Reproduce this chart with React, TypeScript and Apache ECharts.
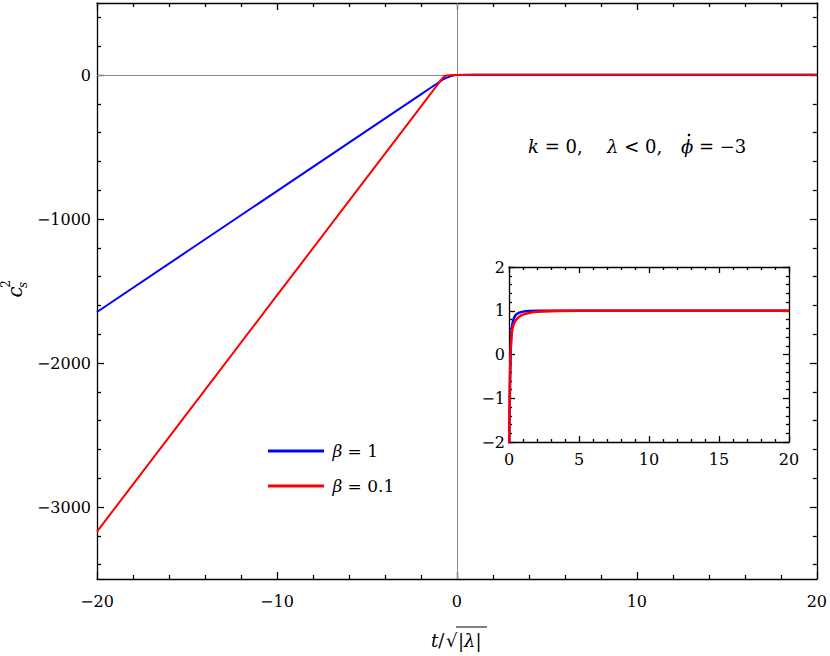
import React, { useEffect, useRef } from 'react';
import * as echarts from 'echarts';

// ---- data ----
const mainT = [-20, -15, -10, -5, -2, -1.5, -1, -0.8, -0.7, -0.6, -0.4, -0.2, 0, 0.5, 1, 2, 5, 10, 20];
const mainBlue = [-1646, -1226, -806, -386, -134, -92, -51, -32, -26, -20, -11, -4, 0, 0.9, 1, 1, 1, 1, 1];
const mainRed = [-3171, -2351, -1531, -711, -219, -137, -55, -22, -9, -4, -1.5, -0.5, 0, 0.8, 0.95, 1, 1, 1, 1];

const insetT = [0, 0.05, 0.1, 0.15, 0.2, 0.3, 0.4, 0.5, 0.7, 1, 1.5, 2, 3, 5, 10, 20];
const insetBlue = [-2.3, -1.2, -0.2, 0.35, 0.6, 0.78, 0.86, 0.91, 0.95, 0.98, 0.995, 1, 1, 1, 1, 1];
const insetRed = [-2.3, -1.0, -0.05, 0.3, 0.5, 0.66, 0.74, 0.79, 0.86, 0.91, 0.955, 0.975, 0.99, 0.998, 1, 1];

const seriesNames = ['β = 1', 'β = 0.1'];
const seriesColors = ['#0000ff', '#ff0000'];

const mainYMajor = [-3000, -2000, -1000, 0];
const mainYMinor = [-3400, -3200, -2800, -2600, -2400, -2200, -1800, -1600, -1400, -1200, -800, -600, -400, -200, 200, 400];

const FONT = 'DejaVu Serif';

const fmt = (v: number) => String(v).replace('-', '\u2212');

export default function App() {
  const ref = useRef<HTMLDivElement>(null);
  useEffect(() => {
    const chart = echarts.init(ref.current!, null, { renderer: 'svg' });
    const lineStyle = { color: '#000', width: 1.3 };
    const axisLine = { show: true, onZero: false, lineStyle };
    const label = (margin: number) => ({ color: '#000', fontSize: 16, fontFamily: FONT, margin, formatter: fmt });
    const noSplit = { splitLine: { show: false }, minorSplitLine: { show: false } };

    const xAxes = [
      { type: 'value', gridIndex: 0, min: -20, max: 20, interval: 10, position: 'bottom', axisLine,
        axisTick: { inside: true, length: 7, lineStyle }, minorTick: { show: true, splitNumber: 5, length: 4, lineStyle },
        axisLabel: label(14), ...noSplit },
      { type: 'value', gridIndex: 0, min: -20, max: 20, interval: 10, position: 'top', axisLine,
        axisTick: { inside: true, length: 7, lineStyle }, minorTick: { show: true, splitNumber: 5, length: 4, lineStyle },
        axisLabel: { show: false }, ...noSplit },
      { type: 'value', gridIndex: 1, min: 0, max: 20, interval: 5, position: 'bottom', axisLine,
        axisTick: { inside: true, length: 6, lineStyle }, minorTick: { show: true, splitNumber: 5, length: 3, lineStyle },
        axisLabel: label(9), ...noSplit },
      { type: 'value', gridIndex: 1, min: 0, max: 20, interval: 5, position: 'top', axisLine,
        axisTick: { inside: true, length: 6, lineStyle }, minorTick: { show: true, splitNumber: 5, length: 3, lineStyle },
        axisLabel: { show: false }, ...noSplit },
    ];
    const yAxes = [
      { type: 'value', gridIndex: 0, min: -3500, max: 500, position: 'left', axisLine,
        axisTick: { inside: true, length: 7, lineStyle, customValues: mainYMajor },
        axisLabel: { ...label(6), customValues: mainYMajor }, ...noSplit },
      { type: 'value', gridIndex: 0, min: -3500, max: 500, position: 'left', axisLine: { show: false, onZero: false },
        axisTick: { inside: true, length: 4, lineStyle, customValues: mainYMinor },
        axisLabel: { show: false }, ...noSplit },
      { type: 'value', gridIndex: 0, min: -3500, max: 500, position: 'right', axisLine,
        axisTick: { inside: true, length: 7, lineStyle, customValues: mainYMajor },
        axisLabel: { show: false }, ...noSplit },
      { type: 'value', gridIndex: 0, min: -3500, max: 500, position: 'right', axisLine: { show: false, onZero: false },
        axisTick: { inside: true, length: 4, lineStyle, customValues: mainYMinor },
        axisLabel: { show: false }, ...noSplit },
      { type: 'value', gridIndex: 1, min: -2, max: 2, interval: 1, position: 'left', axisLine,
        axisTick: { inside: true, length: 6, lineStyle }, minorTick: { show: true, splitNumber: 5, length: 3, lineStyle },
        axisLabel: label(4), ...noSplit },
      { type: 'value', gridIndex: 1, min: -2, max: 2, interval: 1, position: 'right', axisLine,
        axisTick: { inside: true, length: 6, lineStyle }, minorTick: { show: true, splitNumber: 5, length: 3, lineStyle },
        axisLabel: { show: false }, ...noSplit },
    ];

    const mainData = [mainBlue, mainRed];
    const insetData = [insetBlue, insetRed];
    const series: any[] = [];
    seriesNames.forEach((name, i) => {
      series.push({
        name, type: 'line', xAxisIndex: 0, yAxisIndex: 0, showSymbol: false, symbol: 'none', z: 3 + i,
        lineStyle: { color: seriesColors[i], width: 2 }, itemStyle: { color: seriesColors[i] },
        data: mainT.map((t, k) => [t, mainData[i][k]]),
        markLine: i === 0 ? {
          silent: true, symbol: 'none', z: 1, label: { show: false },
          lineStyle: { color: '#888', width: 1, type: 'solid' },
          data: [{ xAxis: 0 }, { yAxis: 0 }],
        } : undefined,
      });
    });
    seriesNames.forEach((name, i) => {
      series.push({
        name: name + ' (inset)', type: 'line', xAxisIndex: 2, yAxisIndex: 4, showSymbol: false, symbol: 'none', z: 3 + i,
        smooth: 0.3, lineStyle: { color: seriesColors[i], width: 2.5 },
        data: insetT.map((t, k) => [t, insetData[i][k]]),
      });
    });

    const txt = (x: number, y: number, text: string, size = 18) => ({
      type: 'text', x, y,
      style: {
        text, fontSize: size, fontFamily: FONT, fill: '#000', verticalAlign: 'middle',
        rich: { i: { fontStyle: 'italic', fontSize: size, fontFamily: FONT } },
      },
    });

    const option: any = {
      animation: false,
      backgroundColor: '#fff',
      textStyle: { fontFamily: FONT },
      grid: [
        { left: 97, top: 3, width: 722, height: 576, show: false },
        { left: 509, top: 267, width: 280, height: 175, show: true, backgroundColor: '#fff', borderWidth: 0 },
      ],
      xAxis: xAxes,
      yAxis: yAxes,
      legend: {
        data: seriesNames, orient: 'vertical', left: 263, top: 436, itemWidth: 56, itemHeight: 3, icon: 'rect',
        itemGap: 15, selectedMode: false,
        formatter: (n: string) => '\u2009' + n.replace('β', '{i|β}'),
        textStyle: { color: '#000', fontSize: 17, fontFamily: FONT, lineHeight: 20,
          rich: { i: { fontStyle: 'italic', fontSize: 17, fontFamily: FONT } } },
      },
      series,
      graphic: [
        txt(528, 146, `{i|k} = 0,`),
        txt(607, 146, `{i|λ} < 0,`),
        txt(681, 146, `{i|ϕ} = \u22123`),
        { type: 'circle', shape: { cx: 689, cy: 135, r: 1.3 }, style: { fill: '#000' } },
        // y axis title c_s^2 (rotated)
        { type: 'text', x: 15, y: 292, rotation: Math.PI / 2,
          style: { text: 'c', fontSize: 20, fontStyle: 'italic', fontFamily: FONT, fill: '#000', align: 'center', verticalAlign: 'middle' } },
        { type: 'text', x: 6, y: 284, rotation: Math.PI / 2,
          style: { text: '2', fontSize: 12, fontFamily: FONT, fill: '#000', align: 'center', verticalAlign: 'middle' } },
        { type: 'text', x: 23, y: 285, rotation: Math.PI / 2,
          style: { text: 's', fontSize: 12, fontStyle: 'italic', fontFamily: FONT, fill: '#000', align: 'center', verticalAlign: 'middle' } },
        // x axis title t/ sqrt(|lambda|)
        txt(431, 640, '{i|t}/'),
        txt(446, 640, '√'),
        { type: 'line', shape: { x1: 456, y1: 627, x2: 487, y2: 627 }, style: { stroke: '#000', lineWidth: 1 } },
        txt(458, 640, '|{i|λ}|'),
      ],
    };
    chart.setOption(option);
    return () => chart.dispose();
  }, []);
  return <div ref={ref} style={{ width: 830, height: 656, position: 'absolute', left: 0, top: 0 }} />;
}
